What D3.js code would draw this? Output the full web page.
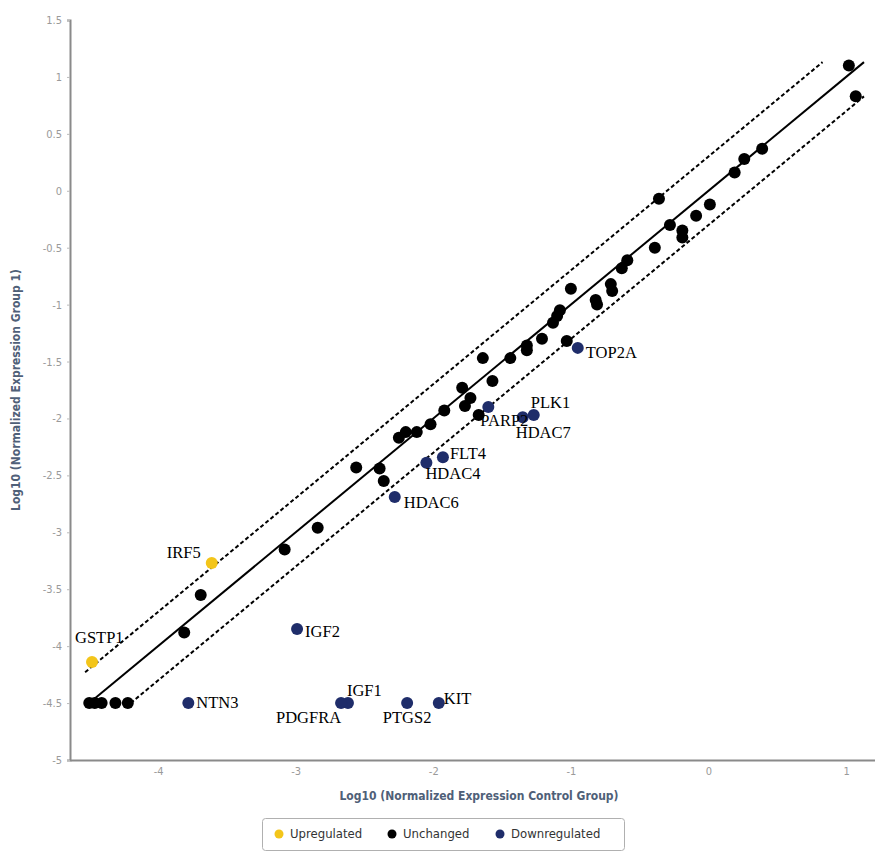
<!DOCTYPE html>
<html>
<head>
<meta charset="utf-8">
<script src="https://cdn.jsdelivr.net/npm/d3@7"></script>
<style>
  html, body { margin: 0; padding: 0; background: #fff; }
  svg { display: block; }
</style>
</head>
<body>
<svg id="chart" width="875" height="851"></svg>
<script>
// Log10 normalized expression: control group (x) vs group 1 (y)

// Genes without a fold change beyond the 2-fold bands
const unchangedX = [1.02, 1.07, 0.39, 0.26, 0.19, 0.01, -0.09, -0.19, -0.19, -0.28, -0.36, -0.39,
  -0.59, -0.63, -0.71, -0.70, -0.82, -0.81, -1.00, -1.08, -1.10, -1.13, -1.03, -1.21, -1.32, -1.32,
  -1.44, -1.57, -1.64, -1.67, -1.73, -1.79, -1.77, -1.92, -2.02, -2.12, -2.20, -2.25, -2.56, -2.39,
  -2.36, -2.84, -3.08, -3.69, -3.81, -4.50, -4.46, -4.41, -4.31, -4.22];
const unchangedY = [1.10, 0.83, 0.37, 0.28, 0.16, -0.12, -0.22, -0.35, -0.41, -0.30, -0.07, -0.50,
  -0.61, -0.68, -0.82, -0.88, -0.96, -1.00, -0.86, -1.05, -1.10, -1.16, -1.32, -1.30, -1.36, -1.40,
  -1.47, -1.67, -1.47, -1.97, -1.82, -1.73, -1.89, -1.93, -2.05, -2.12, -2.12, -2.17, -2.43, -2.44,
  -2.55, -2.96, -3.15, -3.55, -3.88, -4.50, -4.50, -4.50, -4.50, -4.50];

// Upregulated genes
const upGenes = ["IRF5", "GSTP1"];
const upX = [-3.61, -4.48];
const upY = [-3.27, -4.14];

// Downregulated genes
const downGenes = ["TOP2A", "PARP2", "PLK1", "HDAC7", "FLT4", "HDAC4", "HDAC6", "IGF2",
  "NTN3", "IGF1", "PDGFRA", "PTGS2", "KIT"];
const downX = [-0.95, -1.60, -1.27, -1.35, -1.93, -2.05, -2.28, -2.99,
  -3.78, -2.62, -2.67, -2.19, -1.96];
const downY = [-1.38, -1.90, -1.97, -1.99, -2.34, -2.39, -2.69, -3.85,
  -4.50, -4.50, -4.50, -4.50, -4.50];

// Axis ticks
const xTicks = [-4, -3, -2, -1, 0, 1];
const yTicks = [1.5, 1, 0.5, 0, -0.5, -1, -1.5, -2, -2.5, -3, -3.5, -4, -4.5, -5];

// Reference lines: identity and the 2-fold boundaries
const foldOffsets = [0, Math.log10(2), -Math.log10(2)];
const lineExtentX = [-4.53, 1.13];
const lineExtentY = [-4.5, 1.13];

// Legend entries
const legendLabels = ["Upregulated", "Unchanged", "Downregulated"];
const colors = { up: "#f3c51a", same: "#000000", down: "#1f2d6a" };

// Label placement around each point: [dx, dy, anchor]
const labelPlacement = {
  TOP2A: [8, 10, "start"], PARP2: [-8, 19, "start"], PLK1: [-3, -7, "start"],
  HDAC7: [-7, 21, "start"], FLT4: [7, 2, "start"], HDAC4: [-1, 16, "start"],
  HDAC6: [9, 11, "start"], IGF2: [8, 8, "start"], NTN3: [8, 5, "start"],
  IGF1: [-1, -7, "start"], PDGFRA: [0, 20, "end"], PTGS2: [0, 20, "middle"],
  KIT: [5, 1, "start"], IRF5: [-11, -5, "end"], GSTP1: [-17, -19, "start"]
};

const plainNumber = d => String(d);

const svg = d3.select("#chart");
const x = d3.scaleLinear().domain([-4.64, 1.21]).range([70, 875]);
const y = d3.scaleLinear().domain([-5, 1.5]).range([760, 20]);

// Y axis
const yAxis = svg.append("g")
  .attr("transform", `translate(${x.range()[0]},0)`)
  .call(d3.axisLeft(y).tickValues(yTicks).tickFormat(plainNumber).tickSize(3).tickPadding(5));
yAxis.select(".domain").attr("stroke", "#8a8a8a").attr("stroke-width", 2);
yAxis.selectAll(".tick line").attr("stroke", "#bbb");
yAxis.selectAll(".tick text")
  .attr("fill", "#9a9a9a")
  .style("font-family", "'DejaVu Sans Condensed', 'DejaVu Sans', sans-serif")
  .style("font-size", "11px");

// X axis
const xAxis = svg.append("g")
  .attr("transform", `translate(0,${y.range()[0]})`)
  .call(d3.axisBottom(x).tickValues(xTicks).tickFormat(plainNumber).tickSize(0).tickPadding(7));
xAxis.select(".domain").attr("stroke", "#8a8a8a").attr("stroke-width", 2);
xAxis.selectAll(".tick text")
  .attr("fill", "#9a9a9a")
  .style("font-family", "'DejaVu Sans Condensed', 'DejaVu Sans', sans-serif")
  .style("font-size", "11px");

// Axis titles
svg.append("text")
  .attr("x", 479).attr("y", 800)
  .attr("text-anchor", "middle")
  .attr("fill", "#4f6078")
  .style("font-family", "'DejaVu Sans Condensed', 'DejaVu Sans', sans-serif")
  .style("font-weight", "bold").style("font-size", "12px")
  .text("Log10 (Normalized Expression Control Group)");

svg.append("text")
  .attr("transform", `translate(20,${(y.range()[0] + y.range()[1]) / 2}) rotate(-90)`)
  .attr("text-anchor", "middle")
  .attr("fill", "#4f6078")
  .style("font-family", "'DejaVu Sans Condensed', 'DejaVu Sans', sans-serif")
  .style("font-weight", "bold").style("font-size", "12px")
  .text("Log10 (Normalized Expression Group 1)");

// Diagonal reference lines
foldOffsets.forEach(c => {
  const x0 = Math.max(lineExtentX[0], lineExtentY[0] - c);
  const x1 = Math.min(lineExtentX[1], lineExtentY[1] - c);
  svg.append("line")
    .attr("x1", x(x0)).attr("y1", y(x0 + c))
    .attr("x2", x(x1)).attr("y2", y(x1 + c))
    .attr("stroke", "#000")
    .attr("stroke-width", 2)
    .attr("stroke-dasharray", c === 0 ? null : "4,2.5");
});

// Points
const pts = [];
unchangedX.forEach((v, i) => pts.push({ x: v, y: unchangedY[i], c: colors.same }));
upX.forEach((v, i) => pts.push({ x: v, y: upY[i], c: colors.up, gene: upGenes[i] }));
downX.forEach((v, i) => pts.push({ x: v, y: downY[i], c: colors.down, gene: downGenes[i] }));

svg.append("g").selectAll("circle").data(pts).join("circle")
  .attr("cx", d => x(d.x)).attr("cy", d => y(d.y))
  .attr("r", 6)
  .attr("fill", d => d.c);

// Gene labels
svg.append("g").selectAll("text").data(pts.filter(d => d.gene)).join("text")
  .attr("x", d => x(d.x) + labelPlacement[d.gene][0])
  .attr("y", d => y(d.y) + labelPlacement[d.gene][1])
  .attr("text-anchor", d => labelPlacement[d.gene][2])
  .attr("fill", "#000")
  .style("font-family", "'Liberation Serif', 'Times New Roman', serif")
  .style("font-size", "16.5px")
  .text(d => d.gene);

// Legend
const legend = svg.append("g").attr("transform", "translate(262,818)");
legend.append("rect")
  .attr("x", 0.5).attr("y", 0.5).attr("width", 362).attr("height", 32).attr("rx", 3)
  .attr("fill", "#fff").attr("stroke", "#b0b0b0");
const legendColors = [colors.up, colors.same, colors.down];
const legendX = [17, 130, 238];
legendLabels.forEach((lab, i) => {
  legend.append("circle")
    .attr("cx", legendX[i]).attr("cy", 16).attr("r", 4.5)
    .attr("fill", legendColors[i]);
  legend.append("text")
    .attr("x", legendX[i] + 11).attr("y", 20)
    .attr("fill", "#333")
    .style("font-family", "'DejaVu Sans Condensed', 'DejaVu Sans', sans-serif")
    .style("font-size", "13px")
    .text(lab);
});
</script>
</body>
</html>
